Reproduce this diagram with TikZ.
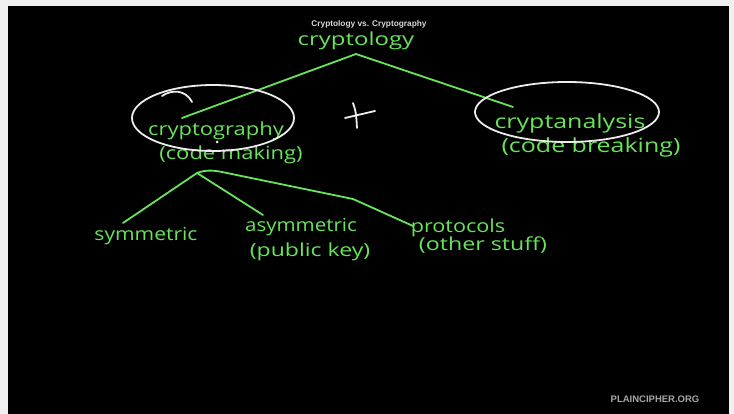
\documentclass[tikz,border=0pt]{standalone}
\usepackage{fontspec}
\setmainfont{Open Sans}
\newfontfamily\labelfont{Liberation Sans}
\definecolor{chalkgreen}{RGB}{104,228,90}
\definecolor{chalkwhite}{RGB}{236,236,236}
\definecolor{framegray}{RGB}{240,240,240}
% handwritten-style words: wider and lower than the font's own proportions
\newcommand\handword[2][1.25]{\scalebox{#1}[1]{#2}}
\tikzset{
  hand/.style={text=chalkgreen, font=\fontsize{18}{18}\selectfont, inner sep=0pt, anchor=base},
  bighand/.style={hand, font=\fontsize{19.5}{19.5}\selectfont},
  greenline/.style={draw=chalkgreen, line width=1.8pt, line cap=round, line join=round},
  whiteline/.style={draw=chalkwhite, line width=1.8pt, line cap=round, line join=round},
}
\begin{document}
\begin{tikzpicture}[x=1pt,y=-1pt]
\useasboundingbox (0,0) rectangle (734,414);
% screen and frame
\fill[framegray] (0,0) rectangle (734,414);
\fill[black] (8,6) rectangle (729,414);

% heading and watermark
\node[font=\labelfont\bfseries\fontsize{8.3}{9}\selectfont, text=white!85!black, inner sep=0pt] (title) at (369,24) {Cryptology vs. Cryptography};
\node[font=\labelfont\bfseries\fontsize{9.5}{10}\selectfont, text=white!65!black, inner sep=0pt] (site) at (655,399) {PLAINCIPHER.ORG};

% top level
\node[hand] (cryptology) at (356,46) {\handword[1.33]{cryptology}};
\coordinate (topfork) at (356,54);

% second level
\node[hand] (cryptography) at (216,136) {\handword[1.22]{cryptography}};
\node[hand] (making) at (231,160) {\handword[1.22]{(code making)}};
\node[bighand] (cryptanalysis) at (570,129) {\handword[1.28]{cryptanalysis}};
\node[bighand] (breaking) at (591,153) {\handword[1.28]{(code breaking)}};
\coordinate (leftend) at (182,118);
\coordinate (rightend) at (513,107);

\draw[greenline] (topfork) -- (leftend);
\draw[greenline] (topfork) -- (rightend);

% circled terms and the plus sign
\draw[whiteline] (213,118) ellipse [x radius=81, y radius=33];
\draw[whiteline] (162,96) .. controls (172,89) and (186,90) .. (192,102);
\fill[chalkwhite] (217,142) circle (1.5);
\draw[whiteline] (567,112) ellipse [x radius=92, y radius=30];
\draw[whiteline] (345,118) -- (375,111);
\draw[whiteline] (353,103) .. controls (356,112) .. (357,128);

% third level
\coordinate (lowfork) at (197,173);
\node[hand] (symmetric) at (146,241) {\handword[1.17]{symmetric}};
\node[hand] (asymmetric) at (301,232) {\handword[1.14]{asymmetric}};
\node[hand] (publickey) at (310,257) {\handword[1.28]{(public key)}};
\node[hand] (protocols) at (458,233) {\handword[1.2]{protocols}};
\node[hand] (otherstuff) at (483,251) {\handword[1.29]{(other stuff)}};
\coordinate (symend) at (123,223);
\coordinate (asymend) at (263,215);
\coordinate (protoend) at (413,226);

\draw[greenline] (lowfork) -- (symend);
\draw[greenline] (lowfork) -- (asymend);
\draw[greenline] (lowfork) .. controls (205,170) and (212,170) .. (222,172)
  -- (353,199) -- (protoend);
\end{tikzpicture}
\end{document}
